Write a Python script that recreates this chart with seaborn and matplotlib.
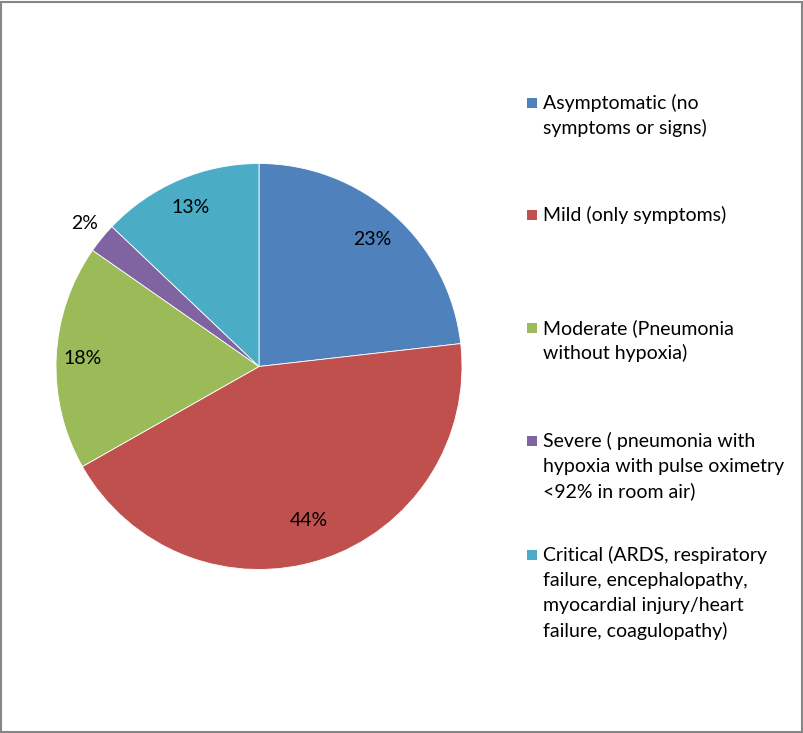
import matplotlib
matplotlib.use("Agg")
import matplotlib.pyplot as plt
import seaborn as sns
import numpy as np
from matplotlib.patches import Rectangle

categories = [
    "Asymptomatic (no\nsymptoms or signs)",
    "Mild (only symptoms)",
    "Moderate (Pneumonia\nwithout hypoxia)",
    "Severe ( pneumonia with\nhypoxia with pulse oximetry\n<92% in room air)",
    "Critical (ARDS, respiratory\nfailure, encephalopathy,\nmyocardial injury/heart\nfailure, coagulopathy)",
]
values = [23.2, 43.6, 17.9, 2.4, 12.9]
pct_labels = ["23%", "44%", "18%", "2%", "13%"]
colors = ["#4F81BD", "#C0504D", "#9BBB59", "#8064A2", "#4BACC6"]

sns.set_theme(style="white")
plt.rcParams["font.family"] = ["Lato", "DejaVu Sans"]

W, H = 804, 733
fig = plt.figure(figsize=(W / 100, H / 100), dpi=100)
fig.patch.set_facecolor("white")

cx, cy, R = 259, 366.5, 203
ax = fig.add_axes([(cx - R) / W, 1 - (cy + R) / H, 2 * R / W, 2 * R / H])
wedges, _ = ax.pie(values, colors=colors, startangle=90, counterclock=False,
                   radius=1, wedgeprops=dict(linewidth=0.6, edgecolor="white"))
ax.set_xlim(-1, 1)
ax.set_ylim(-1, 1)
ax.set_aspect("equal")
ax.axis("off")

label_dist = [0.84, 0.80, 0.87, 1.11, 0.85]
for w, lab, d in zip(wedges, pct_labels, label_dist):
    mid = np.deg2rad((w.theta1 + w.theta2) / 2)
    ax.text(d * np.cos(mid), d * np.sin(mid), lab, ha="center", va="center",
            fontsize=14, color="black")

# legend
first_line_y = [103, 215, 328, 441, 555]
line_h = 25.3
for cat, col, y0 in zip(categories, colors, first_line_y):
    fig.patches.append(Rectangle((527 / W, 1 - (y0 + 5) / H), 10 / W, 10 / H,
                                 transform=fig.transFigure, facecolor=col,
                                 edgecolor="none"))
    for i, line in enumerate(cat.split("\n")):
        fig.text(543 / W, 1 - (y0 + i * line_h) / H, line, ha="left",
                 va="center", fontsize=14, color="black")

# border
fig.patches.append(Rectangle((1 / W, 1 / H), (W - 3) / W, (H - 3) / H,
                             transform=fig.transFigure, facecolor="none",
                             edgecolor="#868686", linewidth=1.5))

fig.savefig("out.png", dpi=100, facecolor="white")
